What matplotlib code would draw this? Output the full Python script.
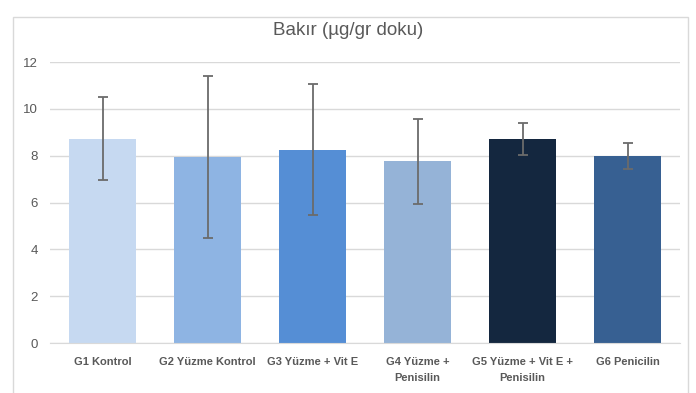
import numpy as np
import matplotlib.pyplot as plt
from matplotlib.patches import Rectangle

plt.rcParams['font.family'] = ['Liberation Sans', 'DejaVu Sans']

# ===================== data =====================
groups = ['G1 Kontrol', 'G2 Yüzme Kontrol', 'G3 Yüzme + Vit E',
          'G4 Yüzme +\nPenisilin', 'G5 Yüzme + Vit E +\nPenisilin', 'G6 Penicilin']
means = [8.72, 7.95, 8.25, 7.77, 8.71, 7.98]
errors = [1.77, 3.47, 2.80, 1.82, 0.68, 0.55]
colors = ['#C6D9F1', '#8EB4E3', '#558ED5', '#95B3D7', '#14273F', '#376092']

fig = plt.figure(figsize=(6.96, 3.93), dpi=100)
ax = fig.add_axes([0.072, 0.127, 0.905, 0.715])

x = np.arange(len(groups))
ax.bar(x, means, width=0.64, color=colors, zorder=2)
ax.errorbar(x, means, yerr=errors, fmt='none', ecolor='#6b6b6b',
            elinewidth=1.3, capsize=3.5, capthick=1.3, zorder=3)

ax.set_xlim(-0.5, len(groups) - 0.5)
ax.set_ylim(0, 12)
ax.set_yticks(np.arange(0, 13, 2))
ax.yaxis.grid(True, color='#d9d9d9', linewidth=1)
ax.set_axisbelow(True)
for s in ['top', 'right', 'left']:
    ax.spines[s].set_visible(False)
ax.spines['bottom'].set_color('#d9d9d9')
ax.tick_params(axis='both', length=0, colors='#595959', labelsize=9.5)
ax.tick_params(axis='y', pad=9)
ax.set_xticks(x)
ax.set_xticklabels(groups, fontsize=8, fontweight='bold', color='#595959',
                   linespacing=1.7)
ax.tick_params(axis='x', pad=10)

fig.text(0.5, 0.922, 'Bakır (µg/gr doku)', ha='center', va='center',
         fontsize=13.5, color='#595959')

# outer chart border
fig.patches.append(Rectangle((0.019, -0.02), 0.969, 0.977, transform=fig.transFigure,
                             fill=False, edgecolor='#d9d9d9', linewidth=1))

plt.savefig('out.png', dpi=100)
